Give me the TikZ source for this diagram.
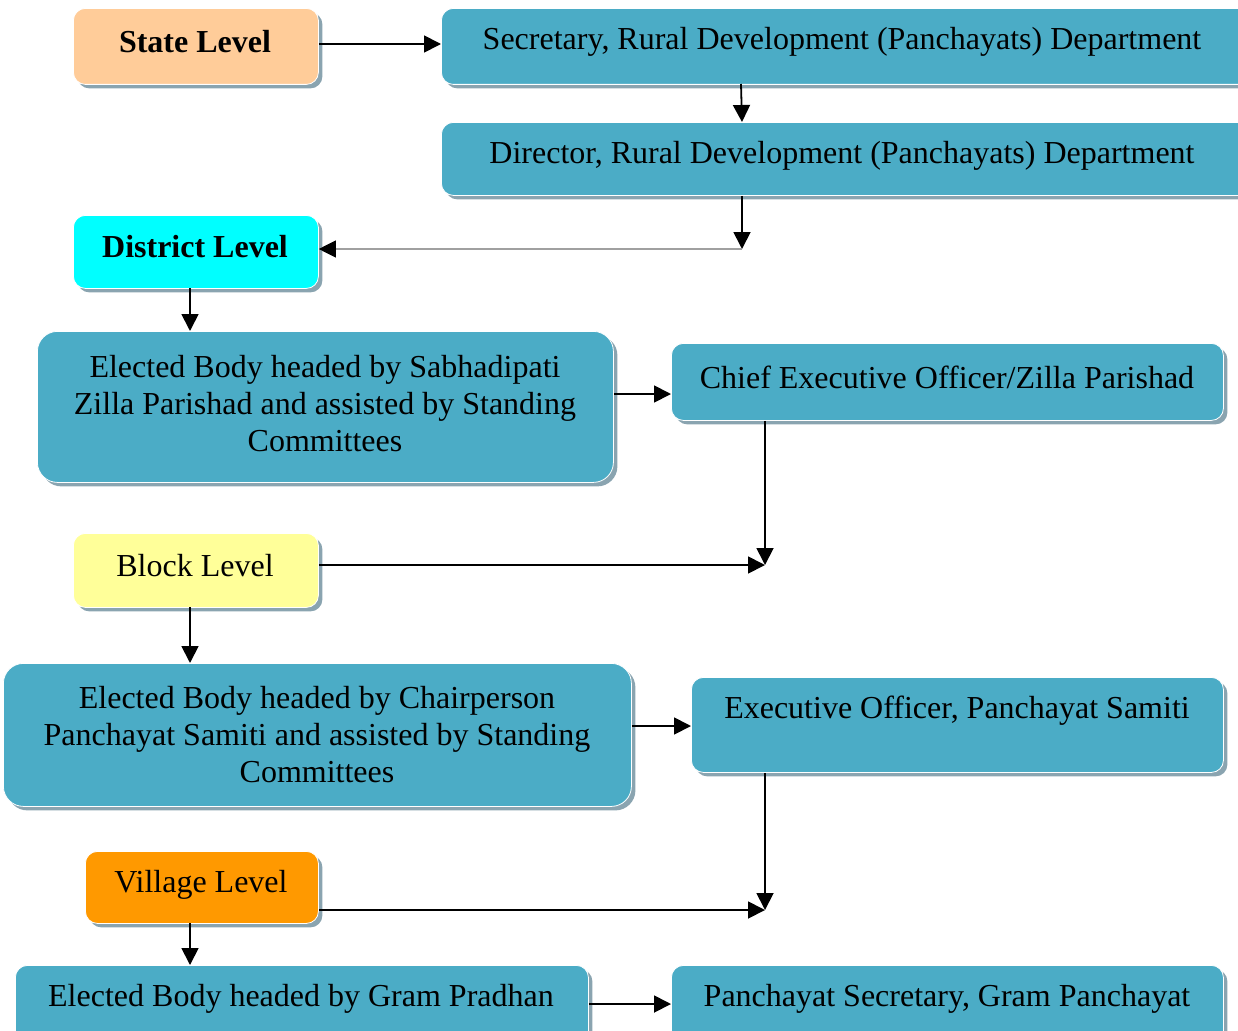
\documentclass[tikz,border=0pt]{standalone}
\usepackage{fontspec}
\setmainfont{Liberation Serif}
\usetikzlibrary{shadows,arrows.meta,calc}
\definecolor{teal1}{HTML}{4BACC6}
\definecolor{peach}{HTML}{FFCC99}
\definecolor{cyan1}{HTML}{00FFFF}
\definecolor{yellow1}{HTML}{FFFF99}
\definecolor{orange1}{HTML}{FF9900}
\definecolor{shad}{HTML}{8AA4B0}
\definecolor{grayline}{HTML}{A0A0A0}
\tikzset{
  box/.style={draw=white, line width=0.8pt, rounded corners=12pt, inner sep=0pt,
    anchor=north west, drop shadow={shadow xshift=4pt, shadow yshift=-4pt, fill=shad, opacity=1}},
  bigbox/.style={box, rounded corners=20pt},
  txt/.style={font=\fontsize{32}{37}\selectfont, align=center, inner sep=0pt},
  btxt/.style={txt, font=\fontsize{32}{37}\selectfont\bfseries},
  arr/.style={line width=1.8pt, -{Triangle[length=17pt,width=17pt]}},
}
\begin{document}
\begin{tikzpicture}[x=1pt,y=-1pt]
\useasboundingbox (0,0) rectangle (1238,1030);
\clip (0,0) rectangle (1238,1030);
% boxes
\node[box, fill=peach, minimum width=245, minimum height=76] (state) at (73,8) {};
\node[box, fill=teal1, minimum width=820, minimum height=76] (sec) at (441,8) {};
\node[box, fill=teal1, minimum width=820, minimum height=73] (dir) at (441,122) {};
\node[box, fill=cyan1, minimum width=245, minimum height=73] (dist) at (73,215) {};
\node[bigbox, fill=teal1, minimum width=576, minimum height=151] (zp) at (37,331) {};
\node[box, fill=teal1, minimum width=552, minimum height=77] (ceo) at (671,343) {};
\node[box, fill=yellow1, minimum width=245, minimum height=74] (block) at (73,533) {};
\node[bigbox, fill=teal1, minimum width=628, minimum height=143] (ps) at (3,663) {};
\node[box, fill=teal1, minimum width=532, minimum height=95] (eo) at (691,677) {};
\node[box, fill=orange1, minimum width=233, minimum height=72] (village) at (85,851) {};
\node[box, fill=teal1, minimum width=573, minimum height=90] (gp) at (15,965) {};
\node[box, fill=teal1, minimum width=552, minimum height=90] (psec) at (671,965) {};
% texts
\node[btxt] (tstate) at (195,42) {State Level};
\node[txt] (tsec) at (842,42) {Secretary, Rural Development (Panchayats) Department};
\node[txt] (tdir) at (842,156) {Director, Rural Development (Panchayats) Department};
\node[btxt] (tdist) at (195,247) {District Level};
\node[txt] (tzp) at (325,404) {Elected Body headed by Sabhadipati\\Zilla Parishad and assisted by Standing\\Committees};
\node[txt] (tceo) at (947,377) {Chief Executive Officer/Zilla Parishad};
\node[txt] (tblock) at (195,566) {Block Level};
\node[txt] (tps) at (317,735) {Elected Body headed by Chairperson\\Panchayat Samiti and assisted by Standing\\Committees};
\node[txt] (teo) at (957,711) {Executive Officer, Panchayat Samiti};
\node[txt] (tvillage) at (201,885) {Village Level};
\node[txt] (tgp) at (301,999) {Elected Body headed by Gram Pradhan};
\node[txt] (tpsec) at (947,999) {Panchayat Secretary, Gram Panchayat};
% junction coordinates
\coordinate (j1) at (742,249);
\coordinate (j2) at (765,565);
\coordinate (j3) at (765,910);
% connectors
\draw[arr] (state.east |- 0,44) -- (sec.west |- 0,44);
\draw[arr] (741,84) -- (742,122);
\draw[arr] (dir.south -| j1) -- (j1);
\draw[grayline, line width=1.2pt, -{Triangle[length=17pt,width=17pt,color=black]}] (j1) -- (dist.east |- j1);
\draw[arr] (190,288) -- (190,331);
\draw[arr] (zp.east |- 0,394) -- (ceo.west |- 0,394);
\draw[arr] (ceo.south -| j2) -- (j2);
\draw[arr] (block.east |- j2) -- (j2);
\draw[arr] (190,607) -- (190,663);
\draw[arr] (ps.east |- 0,726) -- (eo.west |- 0,726);
\draw[arr] (eo.south -| j3) -- (j3);
\draw[arr] (village.east |- j3) -- (j3);
\draw[arr] (190,923) -- (190,965);
\draw[arr] (gp.east |- 0,1004) -- (psec.west |- 0,1004);
\end{tikzpicture}
\end{document}
